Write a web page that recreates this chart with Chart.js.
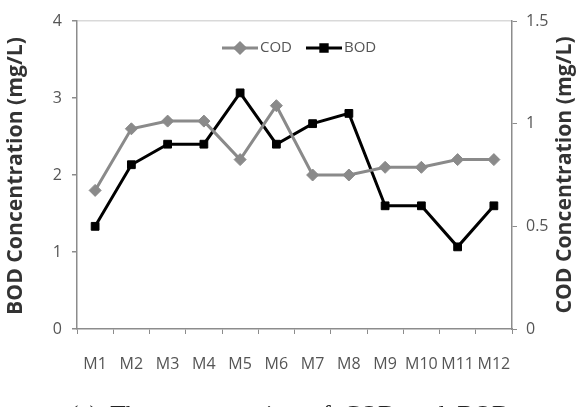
<!DOCTYPE html>
<html>
<head>
<meta charset="utf-8">
<style>
html,body{margin:0;padding:0;background:#fff;overflow:hidden;}
canvas{display:block;}
</style>
<script src="https://cdn.jsdelivr.net/npm/chart.js@4.4.0/dist/chart.umd.min.js"></script>
</head>
<body>
<canvas id="c" width="580" height="407"></canvas>
<script>
const categories = ['M1','M2','M3','M4','M5','M6','M7','M8','M9','M10','M11','M12'];
const codValues = [1.8, 2.6, 2.7, 2.7, 2.2, 2.9, 2.0, 2.0, 2.1, 2.1, 2.2, 2.2];
const bodValues = [0.5, 0.8, 0.9, 0.9, 1.15, 0.9, 1.0, 1.05, 0.6, 0.6, 0.4, 0.6];
const leftTicks = [0, 1, 2, 3, 4];
const rightTicks = [0, 0.5, 1, 1.5];
const leftTitle = 'BOD Concentration (mg/L)';
const rightTitle = 'COD Concentration (mg/L)';
const caption = '(a)  The  concentration  of  COD  and  BOD';

const AXIS = '#8c8c8c';
const TXT = '#555555';
const GRAY = '#8a8a8a';
const FAM = '"Open Sans", "DejaVu Sans", sans-serif';

function fitFont(ctx, text, weight, family, target) {
  ctx.font = weight + ' 20px ' + family;
  const w = ctx.measureText(text).width;
  const size = 20 * target / w;
  ctx.font = weight + ' ' + size.toFixed(2) + 'px ' + family;
}

const overlay = {
  id: 'overlay',
  afterDraw(chart) {
    const ctx = chart.ctx;
    ctx.save();
    // axis titles
    ctx.fillStyle = '#333';
    fitFont(ctx, leftTitle, 'bold', FAM, 278);
    ctx.textAlign = 'center';
    ctx.textBaseline = 'middle';
    ctx.save();
    ctx.translate(16, 176);
    ctx.rotate(-Math.PI / 2);
    ctx.fillText(leftTitle, 0, 0);
    ctx.restore();
    ctx.save();
    ctx.translate(565, 175);
    ctx.rotate(-Math.PI / 2);
    ctx.fillText(rightTitle, 0, 0);
    ctx.restore();
    // legend
    const ly = 48;
    const items = [
      {ds: chart.data.datasets[0], x: 222},
      {ds: chart.data.datasets[1], x: 306}
    ];
    ctx.font = '15px ' + FAM;
    ctx.textAlign = 'left';
    items.forEach(it => {
      const ds = it.ds;
      ctx.strokeStyle = ds.borderColor;
      ctx.lineWidth = 3;
      ctx.beginPath();
      ctx.moveTo(it.x, ly);
      ctx.lineTo(it.x + 36, ly);
      ctx.stroke();
      Chart.helpers.drawPoint(ctx, {pointStyle: ds.pointStyle, radius: ds.pointRadius - 1, borderWidth: 1}, it.x + 18, ly);
      ctx.fillStyle = ds.borderColor;
      ctx.fill();
      ctx.fillStyle = TXT;
      ctx.fillText(ds.label, it.x + 38, ly);
    });
    // caption
    ctx.fillStyle = '#222';
    fitFont(ctx, caption, 'normal', '"Liberation Serif", "DejaVu Serif", serif', 440);
    ctx.textAlign = 'center';
    ctx.textBaseline = 'top';
    ctx.fillText(caption, 290, 404);
    ctx.restore();
  }
};

new Chart(document.getElementById('c'), {
  type: 'line',
  data: {
    labels: categories,
    datasets: [
      {
        label: 'COD',
        data: codValues,
        yAxisID: 'y',
        borderColor: GRAY,
        backgroundColor: GRAY,
        borderWidth: 3,
        pointStyle: 'rectRot',
        pointRadius: 6,
        pointBorderWidth: 1,
        tension: 0
      },
      {
        label: 'BOD',
        data: bodValues,
        yAxisID: 'y1',
        borderColor: '#000000',
        backgroundColor: '#000000',
        borderWidth: 3,
        pointStyle: 'rect',
        pointRadius: 5.5,
        pointBorderWidth: 1,
        tension: 0
      }
    ]
  },
  options: {
    responsive: false,
    animation: false,
    devicePixelRatio: 1,
    layout: {padding: {top: 21, left: 0, right: 0, bottom: 0}},
    plugins: {legend: {display: false}, tooltip: {enabled: false}},
    scales: {
      x: {
        offset: true,
        grid: {display: true, drawOnChartArea: false, drawTicks: true, tickLength: 5, tickColor: AXIS, offset: true},
        border: {color: AXIS, width: 1.5},
        ticks: {color: TXT, font: {family: FAM, size: 16}, padding: 21, maxRotation: 0, autoSkip: false},
        afterFit(s) { s.height = 407 - 329; }
      },
      y: {
        position: 'left',
        min: 0, max: 4,
        afterBuildTicks(s) { s.ticks = leftTicks.map(v => ({value: v})); },
        grid: {
          drawOnChartArea: true,
          color: ctx => (ctx.tick && ctx.tick.value === 4) ? '#d9d9d9' : 'rgba(0,0,0,0)',
          tickColor: AXIS, tickLength: 5, lineWidth: 1.5
        },
        border: {color: AXIS, width: 1.5},
        ticks: {color: TXT, font: {family: FAM, size: 16}, padding: 10, callback: v => String(v)},
        afterFit(s) { s.width = 77; }
      },
      y1: {
        position: 'right',
        min: 0, max: 1.5,
        afterBuildTicks(s) { s.ticks = rightTicks.map(v => ({value: v})); },
        grid: {drawOnChartArea: false, tickColor: AXIS, tickLength: 5},
        border: {color: AXIS, width: 1.5},
        ticks: {color: TXT, font: {family: FAM, size: 16}, padding: 9, callback: v => String(v)},
        afterFit(s) { s.width = 580 - 512; }
      }
    }
  },
  plugins: [overlay]
});
</script>
</body>
</html>
